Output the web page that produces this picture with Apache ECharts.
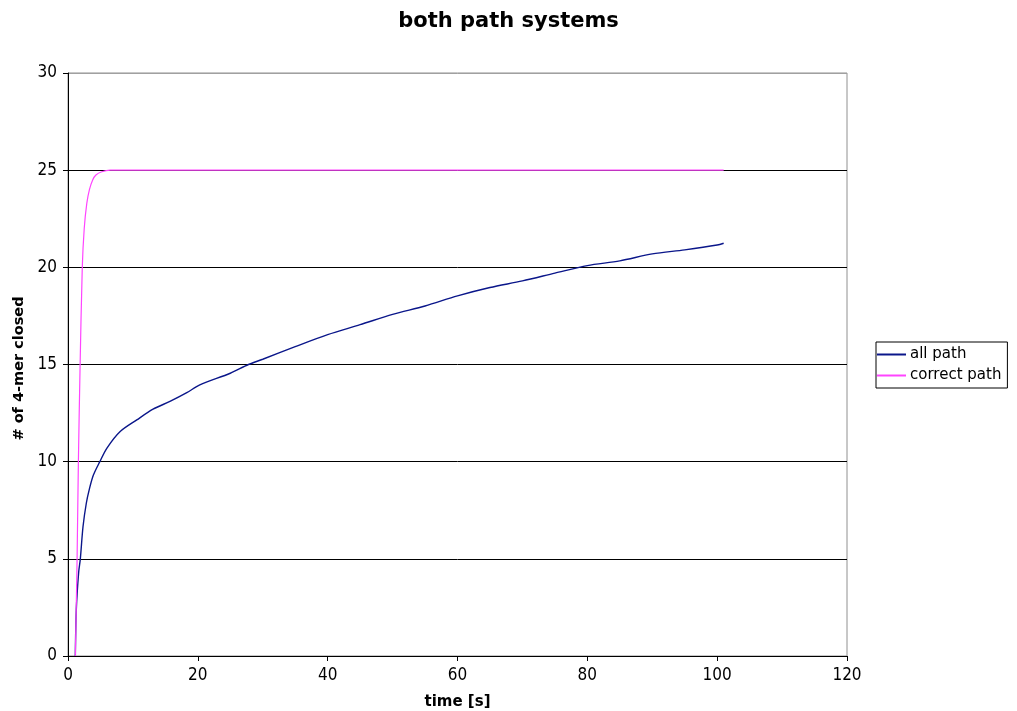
<!DOCTYPE html>
<html>
<head>
<meta charset="utf-8">
<title>both path systems</title>
<script src="https://cdn.jsdelivr.net/npm/echarts@6/dist/echarts.min.js"></script>
<style>
  html, body { margin: 0; padding: 0; background: #fff; }
  #chart { width: 1017px; height: 711px; }
</style>
</head>
<body>
<div id="chart"></div>
<script>
// Time (s) and number of closed 4-mers for each path system
const allPathTime = [1.13, 1.28, 1.64, 1.9, 2.31, 2.82, 3.3, 3.9, 4.9, 6.0, 8.0, 10.6, 13.1, 15.7, 18.3, 20.3, 25, 27.8, 30, 35, 40, 45, 50, 55, 60, 65, 70, 75, 80, 85, 90, 95, 100, 101];
const allPathClosed = [0, 2.4, 4.3, 5.0, 6.65, 7.86, 8.6, 9.3, 10.0, 10.7, 11.54, 12.15, 12.7, 13.1, 13.55, 13.95, 14.55, 15.0, 15.27, 15.92, 16.54, 17.05, 17.58, 18.01, 18.53, 18.96, 19.3, 19.7, 20.09, 20.33, 20.69, 20.9, 21.15, 21.24];

const correctPathTime = [1.13, 1.4, 1.6, 1.85, 2.2, 2.5, 2.9, 3.3, 3.8, 4.3, 5.2, 6.5, 101];
const correctPathClosed = [0, 5, 10, 14.7, 20, 22, 23.3, 24, 24.5, 24.75, 24.92, 25, 25];

const xTicks = { min: 0, max: 120, interval: 20 };
const yTicks = { min: 0, max: 30, interval: 5 };

const pairs = (xs, ys) => xs.map((x, i) => [x, ys[i]]);

const tickFont = "'Liberation Sans Narrow', 'DejaVu Sans Condensed', sans-serif";

const chart = echarts.init(document.getElementById('chart'));
chart.setOption({
  animation: false,
  backgroundColor: '#fff',
  title: {
    text: 'both path systems',
    left: 'center',
    top: 6,
    textStyle: { fontFamily: 'DejaVu Sans', fontWeight: 'bold', fontSize: 21, color: '#000' }
  },
  legend: {
    orient: 'vertical',
    left: 876,
    top: 342,
    padding: [5, 6, 5, 1],
    itemGap: 6,
    itemWidth: 29,
    itemHeight: 2,
    borderColor: '#000',
    borderWidth: 1,
    borderRadius: 0,
    icon: 'rect',
    textStyle: { fontFamily: 'DejaVu Sans', fontSize: 15, color: '#000', padding: [0, 0, 0, -1] },
    data: ['all path', 'correct path']
  },
  grid: {
    left: 68, right: 170, top: 73, bottom: 55,
    outerBoundsMode: 'none',
    containLabel: false,
    show: true, borderColor: '#909090', borderWidth: 1
  },
  xAxis: {
    type: 'value',
    min: xTicks.min, max: xTicks.max, interval: xTicks.interval,
    name: 'time [s]',
    nameLocation: 'middle',
    nameGap: 39,
    nameTextStyle: { fontFamily: 'DejaVu Sans', fontWeight: 'bold', fontSize: 15, color: '#000' },
    axisLine: { show: true, onZero: false, lineStyle: { color: '#000', width: 1 } },
    axisTick: { show: true, length: 5, lineStyle: { color: '#000' } },
    axisLabel: { margin: 11, fontFamily: tickFont, fontSize: 17, color: '#000' },
    splitLine: { show: false }
  },
  yAxis: {
    type: 'value',
    min: yTicks.min, max: yTicks.max, interval: yTicks.interval,
    name: '# of 4-mer closed',
    nameLocation: 'middle',
    nameGap: 38,
    nameTextStyle: { fontFamily: 'DejaVu Sans', fontWeight: 'bold', fontSize: 14.5, color: '#000', padding: [0, 8, 0, 0] },
    axisLine: { show: true, lineStyle: { color: '#000', width: 1 } },
    axisTick: { show: true, length: 5, lineStyle: { color: '#000' } },
    axisLabel: { margin: 11, fontFamily: tickFont, fontSize: 17, color: '#000' },
    splitLine: {
      show: true,
      lineStyle: { color: ['#000', '#000', '#000', '#000', '#000', '#000', '#a0a0a0'], width: 1 }
    }
  },
  series: [
    {
      name: 'all path',
      type: 'line',
      data: pairs(allPathTime, allPathClosed),
      showSymbol: false,
      smooth: 0.3,
      color: '#0a168a',
      lineStyle: { color: '#0a168a', width: 1.4 }
    },
    {
      name: 'correct path',
      type: 'line',
      data: pairs(correctPathTime, correctPathClosed),
      showSymbol: false,
      smooth: 0.3,
      color: '#ff44ff',
      lineStyle: { color: '#ff44ff', width: 1.2 }
    }
  ]
});
</script>
</body>
</html>
